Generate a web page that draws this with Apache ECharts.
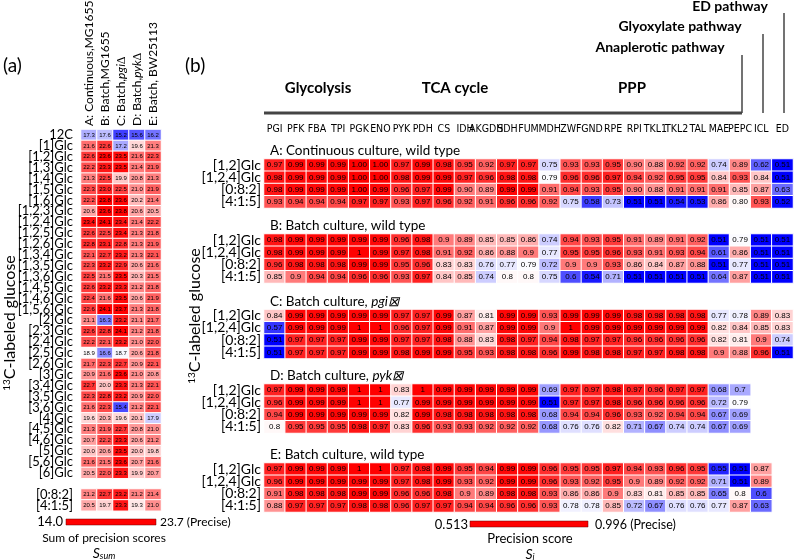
<!DOCTYPE html>
<html><head><meta charset="utf-8">
<script src="https://cdn.jsdelivr.net/npm/echarts@6/dist/echarts.min.js"></script>
<style>html,body{margin:0;padding:0;background:#fff}#c{width:794px;height:560px}</style>
</head><body><div id="c"></div>
<script>
// ---------- Panel (a) data ----------
const tracersMain = ['12C','[1]Glc','[1,2]Glc','[1,3]Glc','[1,4]Glc','[1,5]Glc','[1,6]Glc','[1,2,3]Glc','[1,2,4]Glc','[1,2,5]Glc','[1,2,6]Glc','[1,3,4]Glc','[1,3,5]Glc','[1,3,6]Glc','[1,4,5]Glc','[1,4,6]Glc','[1,5,6]Glc','[2]Glc','[2,3]Glc','[2,4]Glc','[2,5]Glc','[2,6]Glc','[3]Glc','[3,4]Glc','[3,5]Glc','[3,6]Glc','[4]Glc','[4,5]Glc','[4,6]Glc','[5]Glc','[5,6]Glc','[6]Glc'];
const tracersMix = ['[0:8:2]','[4:1:5]'];
const conditionsA = ['A: Continuous,MG1655','B: Batch,MG1655','C: Batch,{i|pgi}\u2206','D: Batch,{i|pyk}\u2206','E: Batch, BW25113'];
const ssumContinuous = [17.3,21.6,22.6,22.2,21.3,22.3,22.2,20.6,23.4,22.6,22.8,22.1,22.3,22.5,22.6,22.4,22.6,21.1,22.6,22.2,18.9,21.7,20.9,22.7,22.3,21.6,19.6,21.3,20.7,20.0,21.6,20.5];
const ssumBatchWT   = [17.6,22.6,23.6,23.3,22.5,23.0,23.8,23.6,24.1,22.5,23.1,22.7,23.2,21.5,23.2,21.6,24.1,16.3,22.8,22.1,16.6,22.3,21.6,20.0,22.8,22.3,20.3,21.9,22.2,20.6,21.5,22.0];
const ssumBatchPgi  = [15.2,17.2,23.5,23.5,19.9,22.5,23.6,23.8,23.4,23.4,22.8,23.2,22.9,23.5,23.3,23.5,23.7,23.2,24.1,23.2,18.7,22.7,23.6,23.3,23.2,15.4,19.6,22.7,23.3,23.5,23.6,23.3];
const ssumBatchPyk  = [15.6,19.6,21.6,21.4,20.8,21.0,20.2,20.6,21.4,21.3,21.3,21.3,20.6,20.3,21.2,20.6,21.3,21.1,21.2,21.0,20.6,20.9,21.0,21.3,20.9,21.2,20.1,20.8,20.6,20.0,20.7,19.9];
const ssumBW25113   = [16.2,21.3,22.3,21.9,21.3,21.9,21.4,20.5,22.2,21.8,21.9,22.1,21.6,21.5,21.8,21.9,21.8,21.7,21.8,22.0,21.8,22.1,20.8,22.1,22.0,22.1,17.9,21.0,21.2,19.8,21.6,20.7];
const ssumMix = [[21.2,22.7,23.2,21.2,21.4],[20.5,19.7,23.3,19.3,21.0]];
const ssumRange = [14.0, 23.7];

// ---------- Panel (b) data ----------
const enzymes = ['PGI','PFK','FBA','TPI','PGK','ENO','PYK','PDH','CS','IDH','AKGDH','SDH','FUM','MDH','ZWF','GND','RPE','RPI','TKL1','TKL2','TAL','MAE','PEPC','ICL','ED'];
const tracersB = ['[1,2]Glc','[1,2,4]Glc','[0:8:2]','[4:1:5]'];
const blockTitles = ['A: Continuous culture, wild type','B: Batch culture, wild type','C: Batch culture, {i|pgi\u22A0}','D: Batch culture, {i|pyk\u22A0}','E: Batch culture, wild type'];
const scoresA = [
 [0.97,0.99,0.99,0.99,1.00,1.00,0.97,0.99,0.98,0.95,0.92,0.97,0.97,0.75,0.93,0.93,0.95,0.90,0.88,0.92,0.92,0.74,0.89,0.62,0.51],
 [0.98,0.99,0.99,0.99,1.00,1.00,0.98,0.99,0.99,0.97,0.96,0.98,0.98,0.79,0.96,0.96,0.97,0.94,0.92,0.95,0.95,0.84,0.93,0.84,0.51],
 [0.98,0.99,0.99,0.99,1.00,0.99,0.96,0.97,0.99,0.90,0.89,0.99,0.99,0.91,0.94,0.93,0.95,0.90,0.88,0.91,0.91,0.91,0.85,0.87,0.63],
 [0.93,0.94,0.94,0.94,0.97,0.97,0.93,0.97,0.96,0.92,0.91,0.96,0.96,0.92,0.75,0.58,0.73,0.51,0.51,0.54,0.53,0.86,0.80,0.93,0.52]];
const scoresB = [
 [0.98,0.99,0.99,0.99,0.99,0.99,0.96,0.98,0.9,0.89,0.85,0.85,0.86,0.74,0.94,0.93,0.95,0.91,0.89,0.91,0.92,0.51,0.79,0.51,0.51],
 [0.98,0.99,0.99,0.99,1,0.99,0.97,0.98,0.91,0.92,0.86,0.88,0.9,0.77,0.95,0.95,0.96,0.93,0.91,0.93,0.94,0.61,0.86,0.51,0.51],
 [0.96,0.98,0.98,0.98,0.99,0.99,0.95,0.96,0.83,0.83,0.76,0.77,0.79,0.72,0.9,0.9,0.93,0.86,0.84,0.87,0.88,0.51,0.77,0.51,0.51],
 [0.85,0.9,0.94,0.94,0.96,0.96,0.93,0.97,0.84,0.85,0.74,0.8,0.8,0.75,0.6,0.54,0.71,0.51,0.51,0.51,0.51,0.64,0.87,0.51,0.51]];
const scoresC = [
 [0.84,0.99,0.99,0.99,0.99,0.99,0.97,0.97,0.99,0.87,0.81,0.99,0.99,0.93,0.99,0.99,0.99,0.98,0.98,0.98,0.98,0.77,0.78,0.89,0.83],
 [0.57,0.99,0.99,0.99,1,1,0.96,0.97,0.99,0.91,0.87,0.99,0.99,0.9,1,0.99,0.99,0.99,0.99,0.99,0.99,0.82,0.84,0.85,0.83],
 [0.51,0.97,0.97,0.97,0.99,0.99,0.97,0.97,0.98,0.88,0.83,0.98,0.97,0.94,0.98,0.97,0.97,0.96,0.96,0.96,0.96,0.82,0.81,0.9,0.74],
 [0.51,0.97,0.97,0.97,0.99,0.99,0.98,0.99,0.99,0.95,0.93,0.98,0.98,0.96,0.99,0.98,0.98,0.97,0.97,0.98,0.98,0.9,0.88,0.96,0.51]];
const scoresD = [
 [0.97,0.99,0.99,0.99,1,1,0.83,1,0.99,0.99,0.99,0.99,0.99,0.69,0.97,0.97,0.98,0.97,0.96,0.97,0.97,0.68,0.7],
 [0.96,0.99,0.99,0.99,1,1,0.77,0.99,0.99,0.99,0.99,0.99,0.99,0.51,0.97,0.97,0.98,0.96,0.96,0.96,0.96,0.72,0.79],
 [0.94,0.99,0.99,0.99,0.99,0.99,0.82,0.99,0.98,0.98,0.98,0.98,0.98,0.68,0.94,0.94,0.96,0.93,0.92,0.94,0.94,0.67,0.69],
 [0.8,0.95,0.95,0.95,0.98,0.97,0.83,0.96,0.93,0.93,0.92,0.92,0.92,0.68,0.76,0.76,0.82,0.71,0.67,0.74,0.74,0.67,0.69]];
const scoresE = [
 [0.97,0.99,0.99,0.99,1,1,0.97,0.98,0.99,0.95,0.94,0.99,0.99,0.96,0.95,0.95,0.97,0.94,0.93,0.96,0.95,0.55,0.51,0.87],
 [0.96,0.99,0.99,0.99,0.99,0.99,0.97,0.98,0.99,0.93,0.92,0.99,0.99,0.96,0.93,0.92,0.95,0.9,0.89,0.92,0.92,0.71,0.51,0.89],
 [0.91,0.98,0.98,0.98,0.99,0.99,0.96,0.96,0.98,0.9,0.89,0.98,0.98,0.93,0.86,0.86,0.9,0.83,0.81,0.85,0.85,0.65,0.8,0.6],
 [0.88,0.97,0.97,0.97,0.98,0.98,0.96,0.97,0.97,0.94,0.94,0.96,0.96,0.93,0.78,0.78,0.85,0.72,0.67,0.76,0.76,0.77,0.87,0.63]];
const scoreRange = [0.513, 0.996];

// ---------- helpers ----------
function ramp(min, mid, max, n) {
  const out = [];
  for (let i = 0; i < n; i++) {
    const v = min + (max - min) * i / (n - 1);
    let r, g, b;
    if (v <= mid) { const t = (v - min) / (mid - min); r = g = Math.round(255 * t); b = 255; }
    else { const t = (v - mid) / (max - mid); r = 255; g = b = Math.round(255 * (1 - t)); }
    out.push('rgb(' + r + ',' + g + ',' + b + ')');
  }
  return out;
}
const FONT = 'Lato';
const NUMFONT = 'Liberation Sans';
const NARROW = "'Liberation Sans Narrow', 'DejaVu Sans Condensed', Lato";

const chart = echarts.init(document.getElementById('c'), null, {renderer: 'canvas'});
const grids = [], xAxes = [], yAxes = [], series = [];

// panel (a)
const aLeft = 81, aColW = 16, rowH = 10.9;
grids.push({left: aLeft, top: 129.5, width: aColW * 5, height: rowH * tracersMain.length});
grids.push({left: aLeft, top: 489, width: aColW * 5, height: rowH * 2});
const condCols = [ssumContinuous, ssumBatchWT, ssumBatchPgi, ssumBatchPyk, ssumBW25113];
const aData = [];
condCols.forEach((col, ci) => col.forEach((v, ri) => aData.push([ci, ri, v])));
const aMix = [];
ssumMix.forEach((row, ri) => row.forEach((v, ci) => aMix.push([ci, ri, v])));
const yLab = {fontFamily: FONT, fontSize: 13, color: '#000', margin: 8};
xAxes.push({type: 'category', gridIndex: 0, data: conditionsA, show: false});
xAxes.push({type: 'category', gridIndex: 1, data: conditionsA, show: false});
yAxes.push({type: 'category', gridIndex: 0, data: tracersMain, inverse: true,
  axisLine: {show: false}, axisTick: {show: false}, axisLabel: Object.assign({interval: 0}, yLab)});
yAxes.push({type: 'category', gridIndex: 1, data: tracersMix, inverse: true,
  axisLine: {show: false}, axisTick: {show: false}, axisLabel: Object.assign({interval: 0}, yLab)});
const aLabel = {show: true, fontFamily: NUMFONT, fontSize: 6, color: '#000', formatter: p => p.value[2].toFixed(1)};
series.push({type: 'heatmap', xAxisIndex: 0, yAxisIndex: 0, data: aData, label: aLabel,
  itemStyle: {borderColor: '#fff', borderWidth: 1}, emphasis: {disabled: true}});
series.push({type: 'heatmap', xAxisIndex: 1, yAxisIndex: 1, data: aMix, label: aLabel,
  itemStyle: {borderColor: '#fff', borderWidth: 1}, emphasis: {disabled: true}});

// panel (b)
const blocks = [scoresA, scoresB, scoresC, scoresD, scoresE];
const blockTops = [159, 234, 309.5, 384, 463];
const bH = 49;
blocks.forEach((blk, bi) => {
  const gi = grids.length;
  grids.push({left: 264, top: blockTops[bi], width: 529, height: bH});
  xAxes.push({type: 'category', gridIndex: gi, data: enzymes, position: 'top',
    axisLine: {show: false}, axisTick: {show: false},
    axisLabel: {show: bi === 0, interval: 0, fontFamily: NARROW, fontSize: 10.5, color: '#000', margin: 24}});
  yAxes.push({type: 'category', gridIndex: gi, data: tracersB, inverse: true,
    axisLine: {show: false}, axisTick: {show: false},
    axisLabel: {interval: 0, fontFamily: FONT, fontSize: 14, color: '#000', margin: 3}});
  const d = [];
  blk.forEach((row, ri) => row.forEach((v, ci) => d.push([ci, ri, v])));
  series.push({type: 'heatmap', xAxisIndex: gi, yAxisIndex: gi, data: d,
    label: {show: true, fontFamily: NUMFONT, fontSize: 8, color: '#000',
      formatter: p => bi === 0 ? p.value[2].toFixed(2) : String(p.value[2])},
    itemStyle: {borderColor: '#fff', borderWidth: 1}, emphasis: {disabled: true}});
});

// graphics
const G = [];
const txt = (x, y, text, o) => G.push(Object.assign({type: 'text', x: x, y: y,
  style: Object.assign({text: text, font: '14px ' + FONT, fill: '#000'}, o || {})}));
txt(3, 56, '(a)', {font: '19px ' + FONT});
txt(185, 56, '(b)', {font: '19px ' + FONT});
// panel (a) column headers (rotated)
conditionsA.forEach((c, i) => {
  G.push({type: 'text', x: aLeft + aColW * (i + 0.5), y: 126, rotation: Math.PI / 2,
    style: {text: c, font: '12px ' + FONT, fill: '#000', align: 'left', verticalAlign: 'middle',
      rich: {i: {fontStyle: 'italic', fontFamily: FONT, fontSize: 12}}}});
});
// axis titles
const yTitle = (x, y) => G.push({type: 'text', x: x, y: y, rotation: Math.PI / 2,
  style: {text: '{s|13}C-labeled glucose', font: '16px ' + FONT, fill: '#000', align: 'center', verticalAlign: 'middle',
    rich: {s: {fontSize: 10, verticalAlign: 'top', fontFamily: FONT, padding: [0, 0, 7, 0]}}}});
yTitle(10, 323);
yTitle(195, 316);
// block titles
blockTitles.forEach((t, i) => {
  G.push({type: 'text', x: 270, y: blockTops[i] - 8, style: {text: t, font: '13.5px ' + FONT, fill: '#000',
    verticalAlign: 'middle', rich: {i: {fontStyle: 'italic', fontFamily: FONT, fontSize: 13.5}}}});
});
// pathway header
const lineStyle = {stroke: '#444', lineWidth: 3};
G.push({type: 'line', shape: {x1: 264, y1: 113, x2: 742, y2: 113}, style: lineStyle});
txt(318, 88, 'Glycolysis', {align: 'center', verticalAlign: 'middle', font: 'bold 15px ' + FONT});
txt(455, 88, 'TCA cycle', {align: 'center', verticalAlign: 'middle', font: 'bold 15px ' + FONT});
txt(632, 88, 'PPP', {align: 'center', verticalAlign: 'middle', font: 'bold 15px ' + FONT});
txt(660, 47, 'Anaplerotic pathway', {align: 'center', verticalAlign: 'middle', font: 'bold 14px ' + FONT});
txt(680, 26, 'Glyoxylate pathway', {align: 'center', verticalAlign: 'middle', font: 'bold 14px ' + FONT});
txt(730, 6, 'ED pathway', {align: 'center', verticalAlign: 'middle', font: 'bold 14px ' + FONT});
G.push({type: 'line', shape: {x1: 742, y1: 55, x2: 742, y2: 113}, style: {stroke: '#444', lineWidth: 1.5}});
G.push({type: 'line', shape: {x1: 763, y1: 34, x2: 763, y2: 113}, style: {stroke: '#444', lineWidth: 1.5}});
G.push({type: 'line', shape: {x1: 784, y1: 13, x2: 784, y2: 113}, style: {stroke: '#444', lineWidth: 1.5}});
// colour bars
G.push({type: 'rect', shape: {x: 66, y: 519, width: 90, height: 6}, style: {fill: '#ff0000', stroke: '#600', lineWidth: 0.5}});
txt(63, 522, ssumRange[0].toFixed(1), {align: 'right', verticalAlign: 'middle', font: '13px ' + FONT});
txt(160, 522, ssumRange[1].toFixed(1) + ' (Precise)', {verticalAlign: 'middle', font: '12px ' + FONT});
txt(104, 538, 'Sum of precision scores', {align: 'center', verticalAlign: 'middle', font: '12px ' + FONT});
txt(104, 553, '{i|S}{s|sum}', {align: 'center', verticalAlign: 'middle', font: '14px ' + FONT,
  rich: {i: {fontStyle: 'italic', fontSize: 14, fontFamily: FONT}, s: {fontStyle: 'italic', fontSize: 9, fontFamily: FONT, padding: [6, 0, 0, 0]}}});
G.push({type: 'rect', shape: {x: 470, y: 521, width: 118, height: 6}, style: {fill: '#ff0000', stroke: '#600', lineWidth: 0.5}});
txt(468, 525, String(scoreRange[0]), {align: 'right', verticalAlign: 'middle', font: '13px ' + FONT});
txt(595, 525, String(scoreRange[1]) + ' (Precise)', {verticalAlign: 'middle', font: '12.5px ' + FONT});
txt(530, 539, 'Precision score', {align: 'center', verticalAlign: 'middle', font: '13px ' + FONT});
txt(530, 554, '{i|S}{s|i}', {align: 'center', verticalAlign: 'middle', font: '14px ' + FONT,
  rich: {i: {fontStyle: 'italic', fontSize: 14, fontFamily: FONT}, s: {fontStyle: 'italic', fontSize: 9, fontFamily: FONT, padding: [6, 0, 0, 0]}}});

chart.setOption({
  animation: false,
  backgroundColor: '#fff',
  grid: grids, xAxis: xAxes, yAxis: yAxes,
  visualMap: [
    {type: 'continuous', show: false, seriesIndex: [0, 1], min: ssumRange[0], max: ssumRange[1],
      inRange: {color: ramp(ssumRange[0], 18.85, ssumRange[1], 60)}},
    {type: 'continuous', show: false, seriesIndex: [2, 3, 4, 5, 6], min: scoreRange[0], max: scoreRange[1],
      inRange: {color: ramp(scoreRange[0], 0.795, scoreRange[1], 60)}}
  ],
  series: series,
  graphic: G
});
</script></body></html>
